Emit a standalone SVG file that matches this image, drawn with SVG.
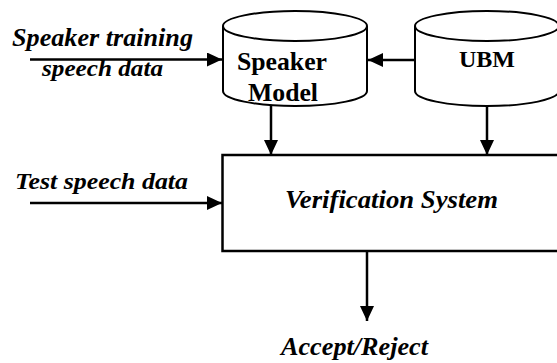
<svg xmlns="http://www.w3.org/2000/svg" width="557" height="363" viewBox="0 0 557 363">
  <defs>
    <marker id="arrow" markerUnits="userSpaceOnUse" markerWidth="16" markerHeight="15" refX="15" refY="7" orient="auto">
      <path d="M0,0 L15,7 L0,14 z" fill="#000"/>
    </marker>
    <style>
      .shape { fill: #fff; stroke: #000; stroke-width: 2; }
      .box { fill: #fff; stroke: #000; stroke-width: 2.5; }
      .edge { stroke: #000; stroke-width: 2.5; fill: none; marker-end: url(#arrow); }
      text { fill: #000; font-weight: bold; }
      .lbl { font-style: italic; }
    </style>
  </defs>
  <rect width="557" height="363" fill="#fff"/>

  <!-- connectors -->
  <g id="connectors">
    <line class="edge" x1="30" y1="59.5" x2="222" y2="59.5"/>
    <line class="edge" x1="415" y1="60" x2="368" y2="60"/>
    <line class="edge" x1="271" y1="105" x2="271" y2="155"/>
    <line class="edge" x1="487" y1="106" x2="487" y2="155"/>
    <line class="edge" x1="30" y1="203" x2="222" y2="203"/>
    <line class="edge" x1="367" y1="251" x2="367" y2="321"/>
  </g>

  <g font-family="'Liberation Serif', 'Times New Roman', serif" font-size="26">
    <!-- speaker model store -->
    <g id="speaker-model">
      <path class="shape" d="M223,26 L223,91 A72,15 0 0 0 367,91 L367,26"/>
      <ellipse class="shape" cx="295" cy="26" rx="72" ry="15"/>
      <text x="237" y="70" textLength="90" lengthAdjust="spacingAndGlyphs">Speaker</text>
      <text x="248" y="101" textLength="70" lengthAdjust="spacingAndGlyphs">Model</text>
    </g>

    <!-- universal background model store -->
    <g id="ubm">
      <path class="shape" d="M415,26 L415,91 A72,15 0 0 0 559,91 L559,26"/>
      <ellipse class="shape" cx="487" cy="26" rx="72" ry="15"/>
      <text x="459" y="67" font-size="24" textLength="56" lengthAdjust="spacingAndGlyphs">UBM</text>
    </g>

    <!-- verification block -->
    <g id="verification-system">
      <rect class="box" x="222.5" y="155" width="340" height="96"/>
      <text class="lbl" x="285" y="208" textLength="213" lengthAdjust="spacingAndGlyphs">Verification System</text>
    </g>

    <!-- inputs and output -->
    <g id="training-input">
      <text class="lbl" x="12" y="46" textLength="181" lengthAdjust="spacingAndGlyphs">Speaker training</text>
      <text class="lbl" x="42" y="76" font-size="24" textLength="121" lengthAdjust="spacingAndGlyphs">speech data</text>
    </g>
    <g id="test-input">
      <text class="lbl" x="15" y="189" font-size="24" textLength="173" lengthAdjust="spacingAndGlyphs">Test speech data</text>
    </g>
    <g id="decision">
      <text class="lbl" x="281" y="355" textLength="147" lengthAdjust="spacingAndGlyphs">Accept/Reject</text>
    </g>
  </g>
</svg>
